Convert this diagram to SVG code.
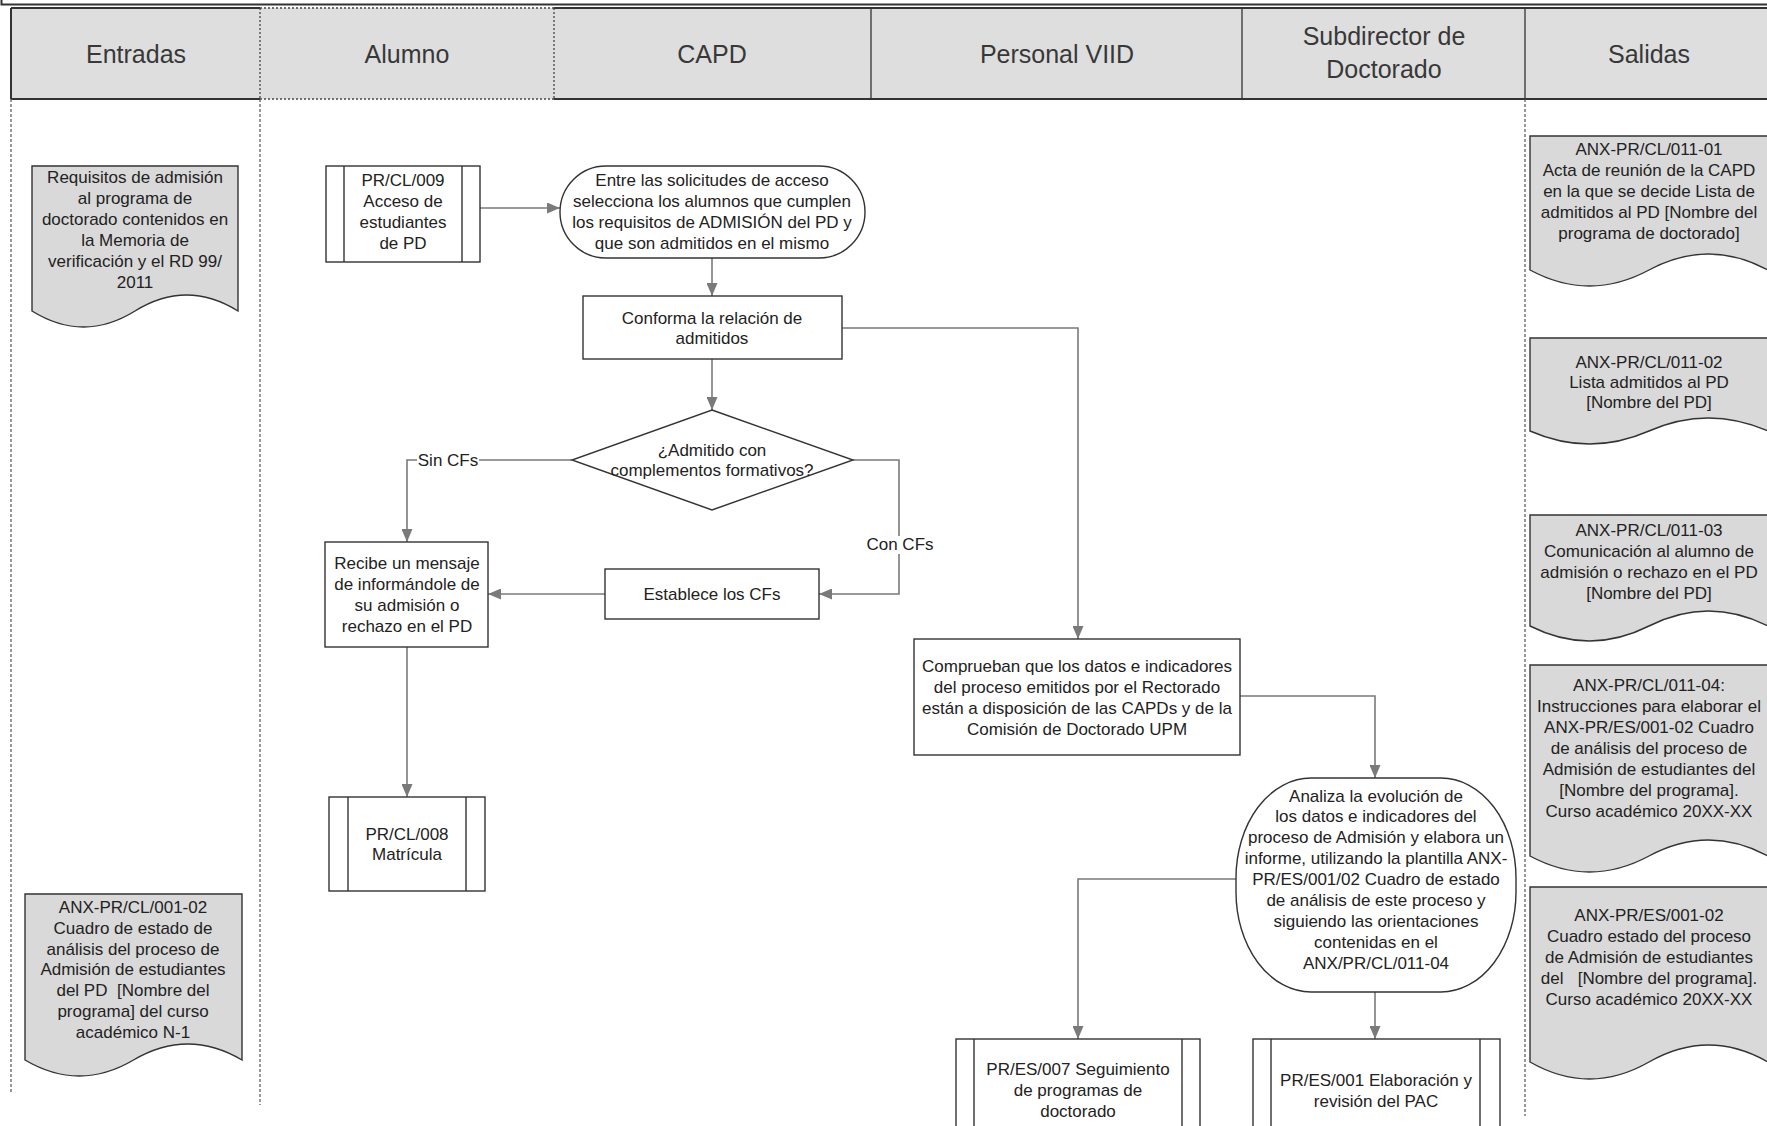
<svg xmlns="http://www.w3.org/2000/svg" width="1767" height="1126" viewBox="0 0 1767 1126">
<style>
.bg{fill:#ffffff}
.hdr{fill:#dedede;stroke:none}
.hl{stroke:#333;stroke-width:2;fill:none}
.hd{stroke:#444;stroke-width:1.3;stroke-dasharray:2 2;fill:none}
.lane{stroke:#555;stroke-width:1.2;stroke-dasharray:3 2;fill:none}
.box{fill:#ffffff;stroke:#333;stroke-width:1.4}
.doc{fill:#d9d9d9;stroke:#333;stroke-width:1.4}
.t{font-family:"Liberation Sans",Arial,sans-serif;font-size:17px;fill:#222;text-anchor:middle}
.h{font-family:"Liberation Sans",Arial,sans-serif;font-size:25px;fill:#383838;text-anchor:middle}
.c{stroke:#7a7a7a;stroke-width:1.6;fill:none;marker-end:url(#arr)}
.lbg{fill:#ffffff}
</style>
<defs>
<marker id="arr" markerUnits="userSpaceOnUse" markerWidth="13" markerHeight="11" refX="13" refY="5.5" orient="auto">
<path d="M0,0 L13,5.5 L0,11 z" fill="#7a7a7a"/>
</marker>
</defs>
<rect class="bg" x="0" y="0" width="1767" height="1126"/>

<g id="header">
<path class="hl" d="M1.5,0 V4.5 H1767"/>
<rect class="hdr" x="11" y="8" width="1760" height="91"/>
<path class="hl" d="M11,8 H260 M554,8 H1767 M11,99 H260 M554,99 H1767"/>
<path class="hd" d="M260,8 H554 M260,99 H554"/>
<path class="hl" d="M11,8 V99"/>
<path class="hd" d="M260,8 V99 M554,8 V99"/>
<path class="hl" style="stroke-width:1.3" d="M871,8 V99 M1242,8 V99 M1525,8 V99"/>
<text class="h" x="136" y="63">Entradas</text>
<text class="h" x="407" y="63">Alumno</text>
<text class="h" x="712" y="63">CAPD</text>
<text class="h" x="1057" y="63">Personal VIID</text>
<text class="h" x="1384" y="45">Subdirector de</text>
<text class="h" x="1384" y="78">Doctorado</text>
<text class="h" x="1649" y="63">Salidas</text>
</g>

<g id="lanes">
<path class="lane" d="M11,99 V1093 M260,99 V1105 M1525,99 V1116"/>
</g>

<g id="connectors">
<path class="c" d="M480,208 H560"/>
<path class="c" d="M712,258 V296"/>
<path class="c" d="M842,328 H1078 V639"/>
<path class="c" d="M712,359 V410"/>
<path class="c" d="M572,460 H407 V542"/>
<path class="c" d="M853,460 H899 V594 H819"/>
<path class="c" d="M605,594 H488"/>
<path class="c" d="M407,647 V797"/>
<path class="c" d="M1240,696 H1375 V778"/>
<path class="c" d="M1236,879 H1078 V1039"/>
<path class="c" d="M1375,992 V1039"/>
<rect class="lbg" x="417" y="452" width="62" height="18"/>
<text class="t" x="448" y="466">Sin CFs</text>
<rect class="lbg" x="867" y="536" width="65" height="18"/>
<text class="t" x="900" y="550">Con CFs</text>
</g>

<g id="in-requisitos">
<path class="doc" d="M32,166 H238 V311 Q186.5,279 135,311 T32,311 Z"/>
<text class="t"><tspan x="135" y="183">Requisitos de admisión</tspan><tspan x="135" y="204">al programa de</tspan><tspan x="135" y="225">doctorado contenidos en</tspan><tspan x="135" y="246">la Memoria de</tspan><tspan x="135" y="267">verificación y el RD 99/</tspan><tspan x="135" y="288">2011</tspan></text>
</g>

<g id="in-cuadro">
<path class="doc" d="M25,894 H242 V1060 Q187.75,1028 133.5,1060 T25,1060 Z"/>
<text class="t"><tspan x="133" y="913">ANX-PR/CL/001-02</tspan><tspan x="133" y="934">Cuadro de estado de</tspan><tspan x="133" y="955">análisis del proceso de</tspan><tspan x="133" y="975">Admisión de estudiantes</tspan><tspan x="133" y="996" xml:space="preserve">del PD  [Nombre del</tspan><tspan x="133" y="1017">programa] del curso</tspan><tspan x="133" y="1038">académico N-1</tspan></text>
</g>

<g id="pr-cl-009">
<rect class="box" x="326" y="166" width="154" height="96"/>
<path class="box" d="M344,166 V262 M462,166 V262"/>
<text class="t"><tspan x="403" y="186">PR/CL/009</tspan><tspan x="403" y="207">Acceso de</tspan><tspan x="403" y="228">estudiantes</tspan><tspan x="403" y="249">de PD</tspan></text>
</g>

<g id="selecciona">
<rect class="box" x="560" y="166" width="305" height="92" rx="46" ry="46"/>
<text class="t"><tspan x="712" y="186">Entre las solicitudes de acceso</tspan><tspan x="712" y="207">selecciona los alumnos que cumplen</tspan><tspan x="712" y="228">los requisitos de ADMISIÓN del PD y</tspan><tspan x="712" y="249">que son admitidos en el mismo</tspan></text>
</g>

<g id="conforma">
<rect class="box" x="583" y="296" width="259" height="63"/>
<text class="t"><tspan x="712" y="324">Conforma la relación de</tspan><tspan x="712" y="344">admitidos</tspan></text>
</g>

<g id="decision">
<path class="box" d="M712,410 L853,460 L712,510 L572,460 Z"/>
<text class="t"><tspan x="712" y="456">¿Admitido con</tspan><tspan x="712" y="476">complementos formativos?</tspan></text>
</g>

<g id="establece">
<rect class="box" x="605" y="569" width="214" height="50"/>
<text class="t" x="712" y="600">Establece los CFs</text>
</g>

<g id="recibe">
<rect class="box" x="325" y="542" width="163" height="105"/>
<text class="t"><tspan x="407" y="569">Recibe un mensaje</tspan><tspan x="407" y="590">de informándole de</tspan><tspan x="407" y="611">su admisión o</tspan><tspan x="407" y="632">rechazo en el PD</tspan></text>
</g>

<g id="pr-cl-008">
<rect class="box" x="329" y="797" width="156" height="94"/>
<path class="box" d="M348,797 V891 M466,797 V891"/>
<text class="t"><tspan x="407" y="840">PR/CL/008</tspan><tspan x="407" y="860">Matrícula</tspan></text>
</g>

<g id="comprueban">
<rect class="box" x="914" y="639" width="326" height="116"/>
<text class="t"><tspan x="1077" y="672">Comprueban que los datos e indicadores</tspan><tspan x="1077" y="693">del proceso emitidos por el Rectorado</tspan><tspan x="1077" y="714">están a disposición de las CAPDs y de la</tspan><tspan x="1077" y="735">Comisión de Doctorado UPM</tspan></text>
</g>

<g id="analiza">
<rect class="box" x="1236" y="778" width="280" height="214" rx="75" ry="100"/>
<text class="t"><tspan x="1376" y="802">Analiza la evolución de</tspan><tspan x="1376" y="822">los datos e indicadores del</tspan><tspan x="1376" y="843">proceso de Admisión y elabora un</tspan><tspan x="1376" y="864">informe, utilizando la plantilla ANX-</tspan><tspan x="1376" y="885">PR/ES/001/02 Cuadro de estado</tspan><tspan x="1376" y="906">de análisis de este proceso y</tspan><tspan x="1376" y="927">siguiendo las orientaciones</tspan><tspan x="1376" y="948">contenidas en el</tspan><tspan x="1376" y="969">ANX/PR/CL/011-04</tspan></text>
</g>

<g id="pr-es-007">
<rect class="box" x="956" y="1039" width="244" height="110"/>
<path class="box" d="M974,1039 V1149 M1182,1039 V1149"/>
<text class="t"><tspan x="1078" y="1075">PR/ES/007 Seguimiento</tspan><tspan x="1078" y="1096">de programas de</tspan><tspan x="1078" y="1117">doctorado</tspan></text>
</g>

<g id="pr-es-001">
<rect class="box" x="1253" y="1039" width="247" height="110"/>
<path class="box" d="M1271,1039 V1149 M1480,1039 V1149"/>
<text class="t"><tspan x="1376" y="1086">PR/ES/001 Elaboración y</tspan><tspan x="1376" y="1107">revisión del PAC</tspan></text>
</g>

<g id="out-1">
<path class="doc" d="M1530,136 H1768 V270 Q1708.5,238 1649,270 T1530,270 Z"/>
<text class="t"><tspan x="1649" y="155">ANX-PR/CL/011-01</tspan><tspan x="1649" y="176">Acta de reunión de la CAPD</tspan><tspan x="1649" y="197">en la que se decide Lista de</tspan><tspan x="1649" y="218">admitidos al PD [Nombre del</tspan><tspan x="1649" y="239">programa de doctorado]</tspan></text>
</g>

<g id="out-2">
<path class="doc" d="M1530,338 H1768 V431 Q1708.5,405 1649,431 T1530,431 Z"/>
<text class="t"><tspan x="1649" y="368">ANX-PR/CL/011-02</tspan><tspan x="1649" y="388">Lista admitidos al PD</tspan><tspan x="1649" y="408">[Nombre del PD]</tspan></text>
</g>

<g id="out-3">
<path class="doc" d="M1530,515 H1768 V626 Q1708.5,596 1649,626 T1530,626 Z"/>
<text class="t"><tspan x="1649" y="536">ANX-PR/CL/011-03</tspan><tspan x="1649" y="557">Comunicación al alumno de</tspan><tspan x="1649" y="578">admisión o rechazo en el PD</tspan><tspan x="1649" y="599">[Nombre del PD]</tspan></text>
</g>

<g id="out-4">
<path class="doc" d="M1530,665 H1768 V856 Q1708.5,824 1649,856 T1530,856 Z"/>
<text class="t"><tspan x="1649" y="691">ANX-PR/CL/011-04:</tspan><tspan x="1649" y="712">Instrucciones para elaborar el</tspan><tspan x="1649" y="733">ANX-PR/ES/001-02 Cuadro</tspan><tspan x="1649" y="754">de análisis del proceso de</tspan><tspan x="1649" y="775">Admisión de estudiantes del</tspan><tspan x="1649" y="796">[Nombre del programa].</tspan><tspan x="1649" y="817">Curso académico 20XX-XX</tspan></text>
</g>

<g id="out-5">
<path class="doc" d="M1530,887 H1768 V1062 Q1708.5,1028 1649,1062 T1530,1062 Z"/>
<text class="t" xml:space="preserve"><tspan x="1649" y="921">ANX-PR/ES/001-02</tspan><tspan x="1649" y="942">Cuadro estado del proceso</tspan><tspan x="1649" y="963">de Admisión de estudiantes</tspan><tspan x="1649" y="984">del   [Nombre del programa].</tspan><tspan x="1649" y="1005">Curso académico 20XX-XX</tspan></text>
</g>
</svg>
